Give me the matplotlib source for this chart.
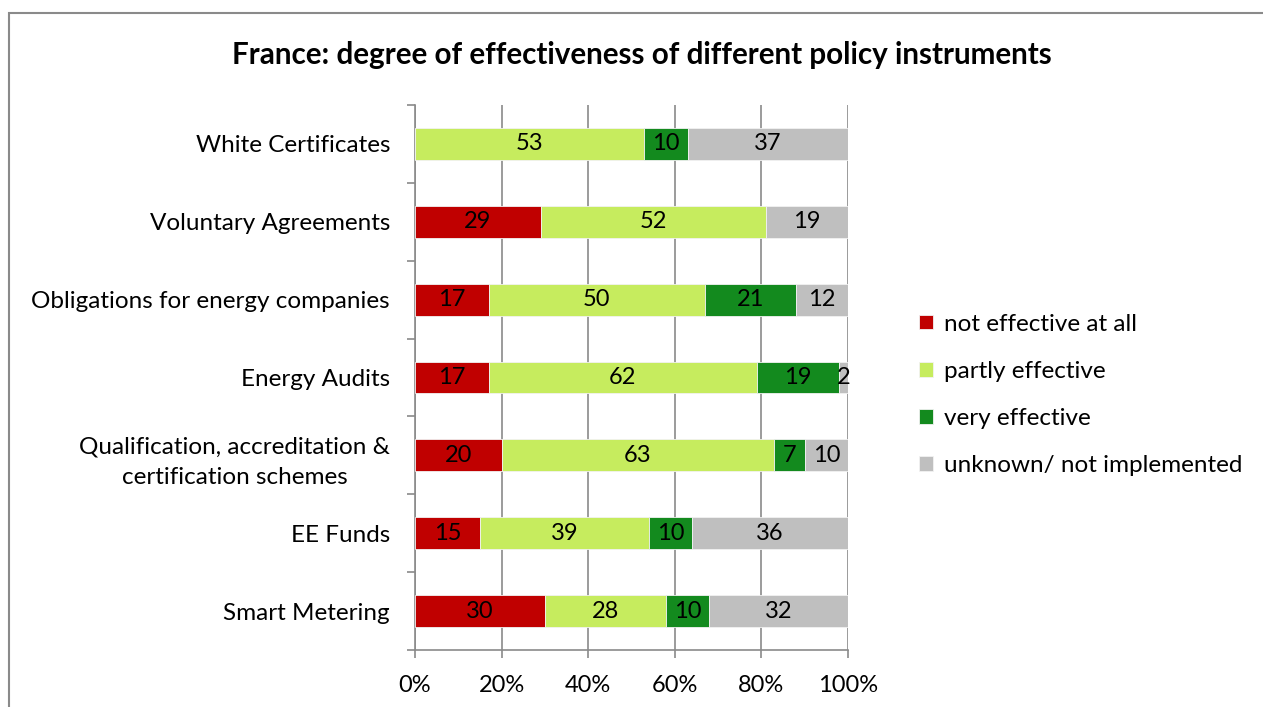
import matplotlib.pyplot as plt
from matplotlib.patches import Rectangle
import numpy as np

plt.rcParams['font.family'] = ['Lato', 'DejaVu Sans']

instruments = ["White Certificates", "Voluntary Agreements",
               "Obligations for energy companies", "Energy Audits",
               "Qualification, accreditation &\ncertification schemes",
               "EE Funds", "Smart Metering"]
not_effective = [0, 29, 17, 17, 20, 15, 30]
partly_effective = [53, 52, 50, 62, 63, 39, 28]
very_effective = [10, 0, 21, 19, 7, 10, 10]
unknown = [37, 19, 12, 2, 10, 36, 32]

series_names = ["not effective at all", "partly effective", "very effective",
                "unknown/ not implemented"]
series_colors = ["#C00000", "#C6EC5E", "#138A1E", "#BFBFBF"]

fig = plt.figure(figsize=(12.63, 7.07), dpi=100)
ax = fig.add_axes([0.3286, 0.0806, 0.3428, 0.7709])

# outer chart border
fig.patches.append(Rectangle((9 / 1263, -0.05), 1.2, 1 - 13 / 707 + 0.05,
                             transform=fig.transFigure, fill=False,
                             edgecolor="#8A8A8A", linewidth=1.5))

series = [not_effective, partly_effective, very_effective, unknown]
y = np.arange(len(instruments))
left = np.zeros(len(instruments))
for vals, name, color in zip(series, series_names, series_colors):
    vals = np.array(vals, dtype=float)
    ax.barh(y, vals, left=left, height=0.41, color=color,
            edgecolor="#F2F2F2", linewidth=0.6, label=name, zorder=3)
    for yi, v, l in zip(y, vals, left):
        if v > 0:
            ax.text(l + v / 2, yi, f"{int(v)}", ha="center", va="center",
                    fontsize=17, color="black", zorder=4)
    left += vals

ax.set_xlim(0, 100)
ax.set_ylim(len(instruments) - 0.5, -0.5)
ax.set_xticks(np.arange(0, 101, 20))
ax.set_xticklabels([f"{v}%" for v in range(0, 101, 20)], fontsize=17)
ax.set_yticks(y)
ax.set_yticklabels(instruments, fontsize=17.5, multialignment="center",
                   linespacing=1.55)
ax.tick_params(axis="y", length=0, pad=18)
ax.set_yticks(np.arange(len(instruments) + 1) - 0.5, minor=True)
ax.tick_params(axis="y", which="minor", length=6, color="#8A8A8A", width=1.2)
ax.tick_params(axis="x", length=6, color="#8A8A8A", width=1.2, pad=12)
ax.grid(axis="x", color="#8A8A8A", linewidth=1.2, zorder=0)
for side in ["top", "right"]:
    ax.spines[side].set_visible(False)
for side in ["left", "bottom"]:
    ax.spines[side].set_color("#8A8A8A")
    ax.spines[side].set_linewidth(1.2)

fig.text(0.508, 1 - 55 / 707, "France: degree of effectiveness of different policy instruments",
         ha="center", va="center", fontsize=21.3, fontweight="bold")

ax.legend(loc="center left", bbox_to_anchor=(1.113, 0.468), frameon=False,
          fontsize=17.5, handlelength=0.57, handleheight=0.57,
          handletextpad=0.45, labelspacing=1.08)

fig.savefig("out.png", dpi=100)
